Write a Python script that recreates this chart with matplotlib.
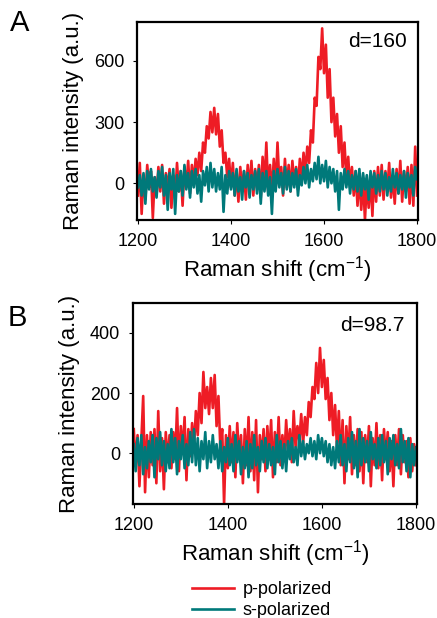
import numpy as np
import matplotlib
matplotlib.use("Agg")
import matplotlib.pyplot as plt

plt.rcParams['font.family'] = ['Liberation Sans', 'DejaVu Sans']

shift = list(range(1200, 1801, 4))

p_A = [
    -60, 100, -150, 40, -80, 90, -20, 60, -170, 30,
    -60, 80, -40, 90, -100, 50, -30, 70, -120, 40,
    -80, 100, -40, 60, -110, 80, -20, 110, -50, 90,
    0, 120, 40, 150, 60, 200, 150, 280, 220, 350,
    250, 370, 240, 340, 180, 260, 100, 150, 30, 120,
    -20, 100, -60, 60, -90, 80, -40, 60, -80, 90,
    -30, 110, -60, 70, -20, 90, -70, 130, -10, 200,
    -40, 90, -60, 120, -30, 200, 0, 80, -60, 120,
    -20, 90, -40, 110, 0, 80, -30, 120, 20, 150,
    50, 180, 100, 260, 200, 420, 380, 620, 560, 760,
    540, 680, 420, 560, 300, 420, 230, 340, 150, 280,
    80, 200, 20, 130, -20, 80, -60, 60, -110, 40,
    -130, 20, -180, 10, -120, 30, -160, 60, -90, 80,
    -60, 90, -80, 60, -40, 100, -70, 40, -100, 70,
    -50, 110, -90, 60, -40, 80, -100, 90, -110, 180,
    -60,
]
s_A = [
    -20, 40, -60, 50, -100, 60, -30, 70, -40, 30,
    -70, 60, -20, 80, -60, 40, -130, 50, -30, 70,
    -150, 40, -40, 60, -60, 90, -30, 50, -70, 60,
    -20, 70, -50, 40, -90, 60, -10, 80, -40, 100,
    -20, 70, -40, 50, -30, 80, -140, 40, -50, 60,
    -30, 50, -60, 70, -40, 30, -80, 60, -20, 50,
    -70, 40, -30, 60, -50, 70, -100, 50, -40, 60,
    -60, 30, -150, 60, -40, 70, -20, 50, -50, 80,
    -30, 60, -40, 50, -20, 70, -60, 40, -10, 80,
    0, 90, -20, 70, 10, 100, 20, 130, 0, 90,
    10, 110, -20, 80, 0, 70, -40, 60, -130, 50,
    -30, 70, -20, 60, -50, 40, -30, 60, -40, 70,
    -60, 50, -30, 40, -80, 60, -20, 50, -50, 40,
    -40, 60, -30, 50, -60, 30, -40, 70, -20, 50,
    -50, 40, -30, 60, -70, 50, -20, 40, -60, 80,
    20,
]
p_B = [
    80, -40, 60, -110, 40, 190, -130, 60, -80, 70,
    -40, 80, -100, 140, -60, 50, -120, 70, -30, 60,
    -50, 70, -20, 150, -60, 90, 0, 120, -90, 80,
    -10, 100, 20, 140, 60, 200, 100, 270, 150, 220,
    130, 250, 150, 260, 90, 190, 20, 80, -170, 60,
    -50, 90, -30, 70, -80, 100, -20, 60, -100, 80,
    -40, 120, -60, 70, -90, 110, -130, 60, -20, 80,
    -60, 90, -20, 110, -80, 70, -30, 120, -40, 60,
    -20, 110, 0, 80, -30, 140, 20, 90, 40, 130,
    30, 120, 60, 170, 120, 220, 180, 300, 200, 350,
    220, 310, 180, 250, 110, 200, 60, 160, 20, 140,
    -40, 110, -100, 90, -20, 120, -70, 60, -40, 80,
    -60, 70, -100, 60, -30, 90, -110, 50, -40, 100,
    -50, 60, -90, 80, -20, 70, -60, 40, -110, 60,
    -40, 80, -70, 60, -30, 40, -80, 50, -60, 30,
    -40,
]
s_B = [
    30, -60, 50, -40, 60, -70, 20, -50, 40, -30,
    60, -80, 50, -20, 70, -40, 40, -60, 30, -50,
    80, -30, 50, -70, 40, -20, 60, -50, 30, -40,
    70, -30, 80, -40, 50, -60, 40, -20, 70, -50,
    40, -30, 60, -20, 30, -50, 40, -60, 20, -30,
    50, -40, 30, -60, 60, -30, 40, -70, 20, -50,
    40, -80, 30, -50, 60, -40, 20, -60, 40, -30,
    50, -50, 30, -40, 20, -70, 60, -30, 40, -50,
    30, -60, 40, -20, 50, -30, 20, -40, 60, -10,
    40, -20, 30, 0, 50, -10, 40, -20, 60, 0,
    50, -10, 40, -30, 30, -40, 20, -50, 40, -30,
    60, -40, 30, -60, 50, -30, 70, -50, 40, -80,
    80, -40, 50, -30, 40, -60, 70, -20, 30, -50,
    50, -40, 60, -30, 40, -70, 50, -20, 60, -40,
    30, -50, 80, -30, 40, -60, 50, -80, 30, -40,
    20,
]

xticks = [1200, 1400, 1600, 1800]
yticks_A = [0, 300, 600]
yticks_B = [0, 200, 400]

RED = '#EE1C25'
TEAL = '#00797A'

fig = plt.figure(figsize=(4.37, 6.18), dpi=100)
axA = fig.add_axes([0.3135, 0.644, 0.643, 0.320])
axB = fig.add_axes([0.304, 0.184, 0.650, 0.326])

def style(ax, ylim, yticks, dtext, dx, dy):
    ax.set_xlim(1198, 1802)
    ax.set_ylim(*ylim)
    ax.set_xticks(xticks)
    ax.set_yticks(yticks)
    ax.tick_params(axis='both', direction='out', length=3, width=0.8,
                   labelsize=13, pad=6)
    for sp in ax.spines.values():
        sp.set_linewidth(1.6)
    ax.set_xlabel('Raman shift (cm$^{\\mathregular{-1}}$)', fontsize=16, labelpad=3)
    ax.set_ylabel('Raman intensity (a.u.)', fontsize=16, labelpad=7)
    ax.text(dx, dy, dtext, transform=ax.transAxes, ha='right', va='center',
            fontsize=15)

lpA, = axA.plot(shift, p_A, color=RED, lw=1.9)
lsA, = axA.plot(shift, s_A, color=TEAL, lw=1.9)
style(axA, (-180, 790), yticks_A, 'd=160', 0.961, 0.905)

lpB, = axB.plot(shift, p_B, color=RED, lw=1.9)
lsB, = axB.plot(shift, s_B, color=TEAL, lw=1.9)
style(axB, (-170, 500), yticks_B, 'd=98.7', 0.958, 0.885)

fig.text(0.022, 0.962, 'A', fontsize=21, va='center', ha='left')
fig.text(0.018, 0.486, 'B', fontsize=21, va='center', ha='left')

fig.legend([lpB, lsB], ['p-polarized', 's-polarized'], loc='center',
           bbox_to_anchor=(0.60, 0.029), frameon=False, fontsize=13,
           handlelength=2.3, labelspacing=0.2, handletextpad=0.5,
           borderpad=0.0)

fig.savefig('out.png', dpi=100)
